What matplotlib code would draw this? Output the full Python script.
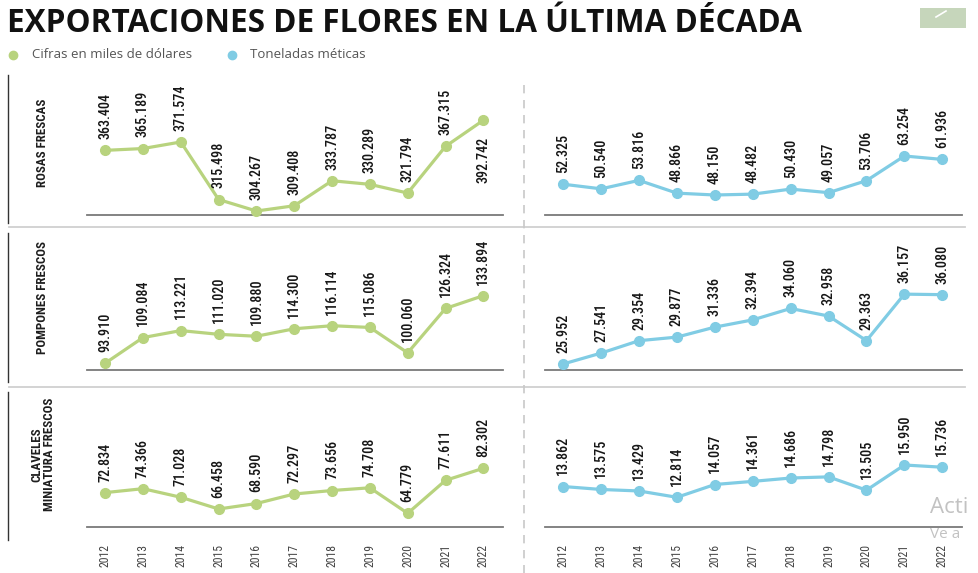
import matplotlib

matplotlib.use("Agg")
import matplotlib.pyplot as plt
from matplotlib.patches import Rectangle
from matplotlib.lines import Line2D

W, H = 979, 573

GREEN = "#b8d37e"
BLUE = "#80cce4"
NARROW = ["Roboto Condensed", "Liberation Sans Narrow", "DejaVu Sans"]

years = [2012, 2013, 2014, 2015, 2016, 2017, 2018, 2019, 2020, 2021, 2022]

rosas_usd = [363.404, 365.189, 371.574, 315.498, 304.267, 309.408, 333.787, 330.289, 321.794, 367.315, 392.742]
rosas_ton = [52.325, 50.540, 53.816, 48.866, 48.150, 48.482, 50.430, 49.057, 53.706, 63.254, 61.936]
pompones_usd = [93.910, 109.084, 113.221, 111.020, 109.880, 114.300, 116.114, 115.086, 100.060, 126.324, 133.894]
pompones_ton = [25.952, 27.541, 29.354, 29.877, 31.336, 32.394, 34.060, 32.958, 29.363, 36.157, 36.080]
claveles_usd = [72.834, 74.366, 71.028, 66.458, 68.590, 72.297, 73.656, 74.708, 64.779, 77.611, 82.302]
claveles_ton = [13.862, 13.575, 13.429, 12.814, 14.057, 14.361, 14.686, 14.798, 13.505, 15.950, 15.736]

row_names = ["ROSAS FRESCAS", "POMPONES FRESCOS", "CLAVELES\nMINIATURA FRESCOS"]
usd_series = [rosas_usd, pompones_usd, claveles_usd]
ton_series = [rosas_ton, pompones_ton, claveles_ton]

# layout in pixels: (top, baseline) per row, y-limits per panel
rows_px = [(80, 215), (235, 370), (392, 527)]
usd_ylim = [(300.4, 432.0), (89.9, 169.8), (59.45, 112.0)]
ton_ylim = [(40.4, 92.7), (25.07, 44.8), (9.93, 23.04)]


def px_rect(left, top, right, bottom):
    return [left / W, 1 - bottom / H, (right - left) / W, (bottom - top) / H]


def fx(x):
    return x / W


def fy(y):
    return 1 - y / H


fig = plt.figure(figsize=(W / 100, H / 100), dpi=100)
fig.patch.set_facecolor("white")


def draw_panel(ax, values, color, ylim, below=(), show_years=False):
    ax.plot(years, values, color=color, lw=2.3, marker="o", ms=7, mec=color, mfc=color,
            clip_on=False, zorder=3)
    ax.set_xlim(2011.52, 2022.52)
    ax.set_ylim(*ylim)
    for s in ["top", "right", "left"]:
        ax.spines[s].set_visible(False)
    ax.spines["bottom"].set_color("#7a7a7a")
    ax.spines["bottom"].set_linewidth(1.3)
    ax.set_yticks([])
    ax.patch.set_alpha(0)
    if show_years:
        ax.set_xticks(years)
        ax.set_xticklabels([str(y) for y in years], rotation=90, family=NARROW,
                           fontstretch="condensed", fontsize=8.5, color="#444444")
        ax.tick_params(axis="x", length=0, pad=12)
    else:
        ax.set_xticks([])
    for i, (x, v) in enumerate(zip(years, values)):
        if i in below:
            off, va = (0, -12), "top"
        else:
            off, va = (0, 8), "bottom"
        ax.annotate(f"{v:.3f}", (x, v), xytext=off, textcoords="offset points",
                    rotation=90, ha="center", va=va, family=NARROW,
                    fontstretch="condensed", fontweight="medium", fontsize=10.2,
                    color="#161616")


for r, (top, base) in enumerate(rows_px):
    axl = fig.add_axes(px_rect(87, top, 503, base))
    draw_panel(axl, usd_series[r], GREEN, usd_ylim[r],
               below=(10,) if r == 0 else (), show_years=(r == 2))
    axr = fig.add_axes(px_rect(545, top, 962, base))
    draw_panel(axr, ton_series[r], BLUE, ton_ylim[r], show_years=(r == 2))
    fig.text(fx(43), fy((top + base) / 2 - 5), row_names[r], rotation=90, ha="center",
             va="center", family=NARROW, fontstretch="condensed", fontweight="bold",
             fontsize=9.3, color="#1e1e1e", linespacing=1.0)

# frame lines
for y0, y1 in [(75, 223), (233, 382), (392, 540)]:
    fig.add_artist(Line2D([fx(8), fx(8)], [fy(y0), fy(y1)], color="#333333", lw=1.0))
for y in [227, 387]:
    fig.add_artist(Line2D([fx(9), fx(965)], [fy(y), fy(y)], color="#d0d0d0", lw=1.3))
fig.add_artist(Line2D([fx(524), fx(524)], [fy(85), fy(573)], color="#c8c8c8", lw=1.2,
                      ls=(0, (5, 4))))

# title and legend
fig.text(fx(7), fy(23), "EXPORTACIONES DE FLORES EN LA ÚLTIMA DÉCADA", ha="left",
         va="center", family="Open Sans", fontweight="bold", fontsize=22.7, color="#111111")
fig.add_artist(Line2D([fx(13)], [fy(55)], marker="o", ms=6, color=GREEN, lw=0))
fig.text(fx(32), fy(55), "Cifras en miles de dólares", ha="left", va="center",
         family="Open Sans", fontsize=9.5, color="#555555")
fig.add_artist(Line2D([fx(232)], [fy(55)], marker="o", ms=6, color=BLUE, lw=0))
fig.text(fx(250), fy(55), "Toneladas méticas", ha="left", va="center",
         family="Open Sans", fontsize=9.5, color="#555555")

# small icon box at top right
fig.add_artist(Rectangle((fx(920), fy(28)), fx(46), 20 / H, color="#c6d6bb", lw=0))
fig.add_artist(Line2D([fx(936), fx(946)], [fy(17), fy(11)], color="white", lw=1.2))

# faint watermark at the bottom right
fig.text(fx(930), fy(513), "Acti", ha="left", va="baseline", family="Open Sans",
         fontsize=16, color="#c2c2c2")
fig.text(fx(930), fy(538), "Ve a", ha="left", va="baseline", family="Open Sans",
         fontsize=11, color="#c2c2c2")

fig.savefig("out.png", dpi=100, facecolor="white")
